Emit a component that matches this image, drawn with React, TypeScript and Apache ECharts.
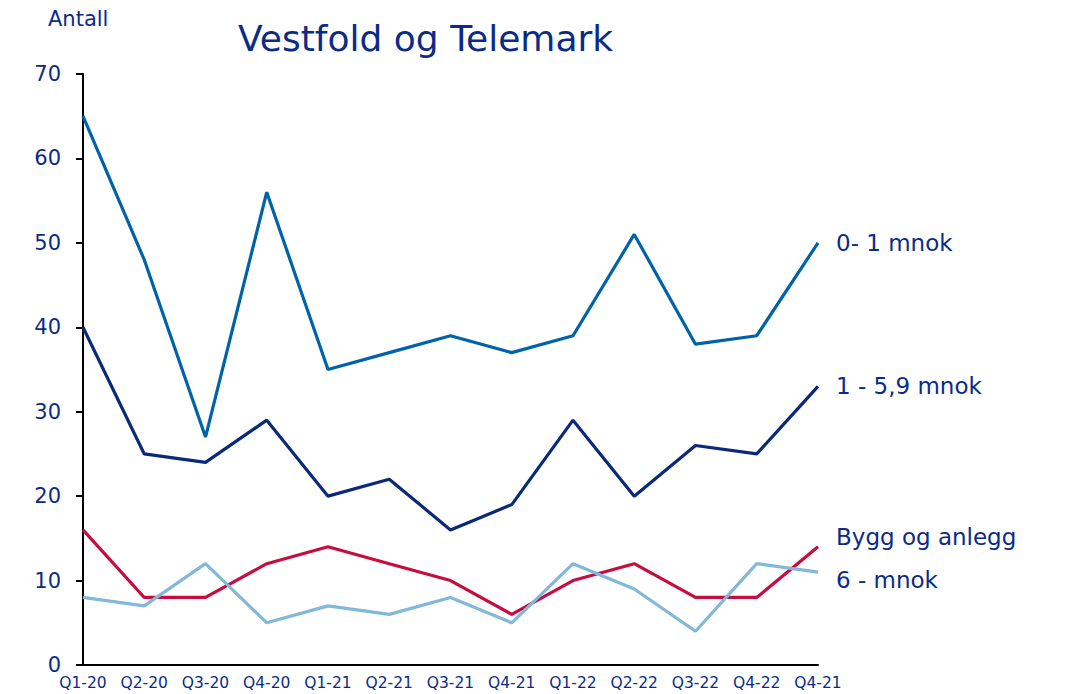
import React, { useEffect, useRef } from "react";
import * as echarts from "echarts";

const categories = ["Q1-20", "Q2-20", "Q3-20", "Q4-20", "Q1-21", "Q2-21", "Q3-21", "Q4-21", "Q1-22", "Q2-22", "Q3-22", "Q4-22", "Q4-21"];
const small = [65, 48, 27, 56, 35, 37, 39, 37, 39, 51, 38, 39, 50];
const medium = [40, 25, 24, 29, 20, 22, 16, 19, 29, 20, 26, 25, 33];
const bygg = [16, 8, 8, 12, 14, 12, 10, 6, 10, 12, 8, 8, 14];
const large = [8, 7, 12, 5, 7, 6, 8, 5, 12, 9, 4, 12, 11];
const yTicks = { min: 0, max: 70, interval: 10 };

const TEXT = "#0B2C86";
const FONT = "'DejaVu Sans', sans-serif";

export default function App() {
  const ref = useRef<HTMLDivElement>(null);
  useEffect(() => {
    const chart = echarts.init(ref.current!, null, { renderer: "svg" });
    const mk = (name: string, data: number[], color: string, offset: number[]) => ({
      name,
      type: "line",
      data,
      symbol: "none",
      lineStyle: { color, width: 3.2 },
      itemStyle: { color },
      endLabel: {
        show: true,
        formatter: name,
        color: TEXT,
        fontSize: 23,
        fontFamily: FONT,
        distance: 18,
        offset,
      },
    });
    chart.setOption({
      animation: false,
      title: {
        text: "Vestfold og Telemark",
        left: 233,
        top: 15,
        textStyle: { color: TEXT, fontSize: 36, fontWeight: "normal", fontFamily: FONT },
      },
      graphic: [
        {
          type: "text",
          left: 48,
          top: 8,
          style: { text: "Antall", fill: TEXT, fontSize: 21, fontFamily: FONT },
        },
      ],
      grid: { left: 83, right: 250, top: 74, bottom: 29, containLabel: false },
      xAxis: {
        type: "category",
        data: categories,
        boundaryGap: false,
        axisLine: { lineStyle: { color: "#000", width: 2 } },
        axisTick: { show: false },
        axisLabel: { color: TEXT, fontSize: 15.5, fontFamily: FONT, margin: 10, interval: 0 },
      },
      yAxis: {
        type: "value",
        min: yTicks.min,
        max: yTicks.max,
        interval: yTicks.interval,
        axisLine: { show: true, lineStyle: { color: "#000", width: 2 } },
        axisTick: { show: true, length: 7, lineStyle: { color: "#000", width: 2 } },
        splitLine: { show: false },
        axisLabel: { color: TEXT, fontSize: 21, fontFamily: FONT, margin: 22 },
      },
      series: [
        mk("0- 1 mnok", small, "#0063A9", [0, 0]),
        mk("1 - 5,9 mnok", medium, "#0A2A78", [0, 0]),
        mk("Bygg og anlegg", bygg, "#C70D3F", [0, -10]),
        mk("6 - mnok", large, "#82B8D8", [0, 8]),
      ],
    });
    return () => chart.dispose();
  }, []);
  return <div ref={ref} style={{ width: 1068, height: 694, position: "absolute", left: 0, top: 0 }} />;
}
